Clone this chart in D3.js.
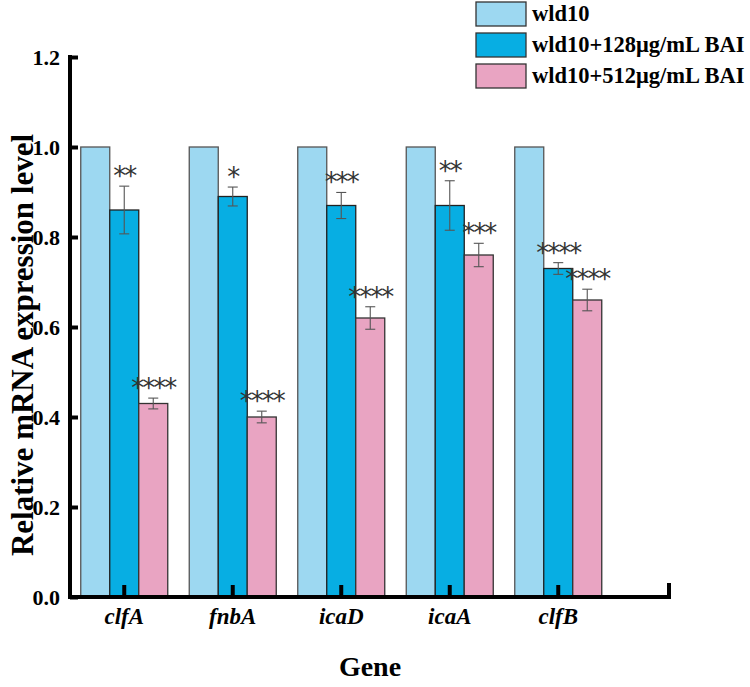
<!DOCTYPE html>
<html>
<head>
<meta charset="utf-8">
<script src="https://cdn.jsdelivr.net/npm/d3@7"></script>
<style>
  html, body { margin: 0; padding: 0; background: #fff; }
  svg { display: block; }
</style>
</head>
<body>
<svg id="chart" width="750" height="687"></svg>
<script>
// ---- data ----
const genes = ["clfA", "fnbA", "icaD", "icaA", "clfB"];
const seriesNames = ["wld10", "wld10+128μg/mL BAI", "wld10+512μg/mL BAI"];
const valuesControl = [1.0, 1.0, 1.0, 1.0, 1.0];
const values128 = [0.86, 0.89, 0.87, 0.87, 0.73];
const values512 = [0.43, 0.40, 0.62, 0.76, 0.66];
const errors128 = [0.053, 0.021, 0.029, 0.055, 0.013];
const errors512 = [0.012, 0.013, 0.025, 0.026, 0.024];
const signif128 = ["**", "*", "***", "**", "****"];
const signif512 = ["****", "****", "****", "***", "****"];
const yTicks = [0.0, 0.2, 0.4, 0.6, 0.8, 1.0, 1.2];
const colors = ["#9dd8f1", "#07aee3", "#e9a4c2"];
const strokeColors = ["#555", "#222", "#333"];

const seriesValues = [valuesControl, values128, values512];
const seriesErrors = [null, errors128, errors512];
const seriesSignif = [null, signif128, signif512];

const svg = d3.select("#chart");

const y = d3.scaleLinear().domain([0, 1.2]).range([597, 57]);
const x = d3.scaleBand().domain(genes).range([70, 612.5]).padding(0);
const xInner = d3.scaleBand().domain(d3.range(3)).range([-43.5, 43.5]).padding(0);

const serif = "'Liberation Serif', 'Times New Roman', serif";

// bars
seriesValues.forEach((vals, s) => {
  svg.append("g").selectAll("rect")
    .data(genes)
    .join("rect")
    .attr("x", (g) => x(g) + x.bandwidth() / 2 + xInner(s))
    .attr("y", (g, i) => y(vals[i]))
    .attr("width", xInner.bandwidth())
    .attr("height", (g, i) => y(0) - y(vals[i]))
    .attr("fill", colors[s])
    .attr("stroke", strokeColors[s])
    .attr("stroke-width", 1.3);
});

// error bars and significance
seriesValues.forEach((vals, s) => {
  if (!seriesErrors[s]) return;
  const errs = seriesErrors[s];
  const g = svg.append("g").attr("stroke", "#555").attr("stroke-width", 1.1);
  genes.forEach((gene, i) => {
    const cx = x(gene) + x.bandwidth() / 2 + xInner(s) + xInner.bandwidth() / 2;
    const top = y(vals[i] + errs[i]);
    const bot = y(vals[i] - errs[i]);
    g.append("line").attr("x1", cx).attr("x2", cx).attr("y1", top).attr("y2", bot);
    g.append("line").attr("x1", cx - 5).attr("x2", cx + 5).attr("y1", top).attr("y2", top);
    g.append("line").attr("x1", cx - 5).attr("x2", cx + 5).attr("y1", bot).attr("y2", bot);
    svg.append("text")
      .attr("x", cx)
      .attr("y", top - 1)
      .attr("text-anchor", "middle")
      .attr("font-family", "'DejaVu Sans', sans-serif")
      .attr("font-size", 26)
      .attr("letter-spacing", -2)
      .attr("fill", "#333")
      .text(seriesSignif[s][i]);
  });
});

// y axis
const yAxis = d3.axisLeft(y).tickValues(yTicks).tickFormat(d3.format(".1f")).tickSize(0).tickPadding(10);
const gy = svg.append("g").attr("transform", "translate(70,0)").call(yAxis);
gy.select(".domain").attr("stroke", "#000").attr("stroke-width", 4).attr("d", "M0,55V599");
gy.selectAll(".tick").append("line")
  .attr("stroke", "#000").attr("stroke-width", 4).attr("x1", 0).attr("x2", 8);
gy.selectAll(".tick text")
  .attr("font-family", serif).attr("font-weight", "bold").attr("font-size", 22).attr("fill", "#000");

// x axis
const xAxis = d3.axisBottom(x).tickSize(0).tickPadding(11);
const gx = svg.append("g").attr("transform", "translate(0,597)").call(xAxis);
gx.select(".domain").remove();
gx.append("path").attr("d", "M68,0H669V-14").attr("fill", "none").attr("stroke", "#000").attr("stroke-width", 4);
gx.selectAll(".tick").append("line")
  .attr("y1", 0).attr("y2", -12).attr("stroke", "#000").attr("stroke-width", 4);
gx.selectAll(".tick text")
  .attr("font-family", serif).attr("font-weight", "bold").attr("font-style", "italic")
  .attr("font-size", 23).attr("fill", "#000");

// axis titles
svg.append("text")
  .attr("transform", "translate(33,345) rotate(-90)")
  .attr("text-anchor", "middle")
  .attr("font-family", serif).attr("font-weight", "bold").attr("font-size", 31)
  .text("Relative mRNA expression level");

svg.append("text")
  .attr("x", 370).attr("y", 676)
  .attr("text-anchor", "middle")
  .attr("font-family", serif).attr("font-weight", "bold").attr("font-size", 28)
  .text("Gene");

// legend
const legend = svg.append("g").attr("transform", "translate(476,2)");
seriesNames.forEach((name, s) => {
  const row = legend.append("g").attr("transform", `translate(0,${s * 31})`);
  row.append("rect").attr("width", 50).attr("height", 24)
    .attr("fill", colors[s]).attr("stroke", "#333").attr("stroke-width", 1.3);
  row.append("text").attr("x", 56).attr("y", 19)
    .attr("font-family", serif).attr("font-weight", "bold").attr("font-size", 22.5)
    .text(name);
});
</script>
</body>
</html>
